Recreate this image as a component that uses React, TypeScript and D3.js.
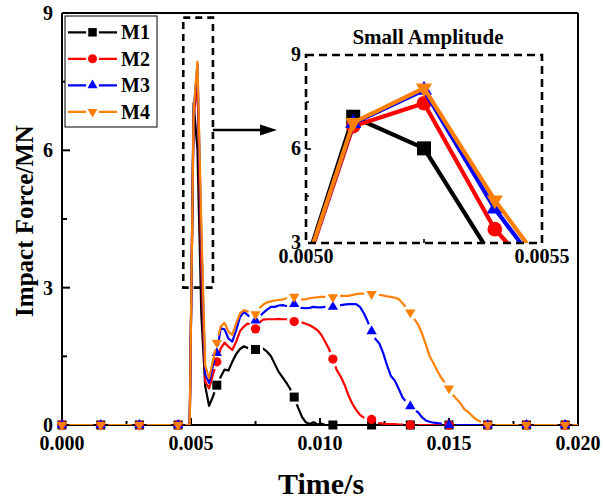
import React from "react";
import * as d3 from "d3";

// sampling step of the simulation output (s)
const TIME_STEP = 0.00015;

const SERIES_NAMES = ["M1", "M2", "M3", "M4"];
const SERIES_COLORS = ["#000000", "#ff0000", "#0000ff", "#ff8000"];

// Impact force (MN), one value per TIME_STEP, index 0 .. 134
const M1_VALUES = [
  0, 0, 0, 0, 0, 0, 0, 0, 0, 0,
  0, 0, 0, 0, 0, 0, 0, 0, 0, 0,
  0, 0, 0, 0, 0, 0, 0, 0, 0, 0,
  0, 0, 0, 0, 7.03, 6.02, 2.42, 0.85, 0.42, 0.62,
  0.87, 1.05, 1.21, 1.19, 1.38, 1.55, 1.66, 1.72, 1.68, 1.66,
  1.65, 1.68, 1.67, 1.6, 1.5, 1.33, 1.16, 1.04, 0.92, 0.78,
  0.61, 0.38, 0.18, 0.06, 0.02, 0.06, 0.01, 0.03, 0, 0,
  0, 0, 0, 0, 0, 0, 0, 0, 0, 0,
  0, 0, 0, 0, 0, 0, 0, 0, 0, 0,
  0, 0, 0, 0, 0, 0, 0, 0, 0, 0,
  0, 0, 0, 0, 0, 0, 0, 0, 0, 0,
  0, 0, 0, 0, 0, 0, 0, 0, 0, 0,
  0, 0, 0, 0, 0, 0, 0, 0, 0, 0,
  0, 0, 0, 0, 0,
];

const M2_VALUES = [
  0, 0, 0, 0, 0, 0, 0, 0, 0, 0,
  0, 0, 0, 0, 0, 0, 0, 0, 0, 0,
  0, 0, 0, 0, 0, 0, 0, 0, 0, 0,
  0, 0, 0, 0, 6.73, 7.46, 3.44, 0.95, 0.8, 1.1,
  1.38, 1.67, 1.8, 1.71, 1.64, 1.82, 2.05, 2.15, 2.22, 2.18,
  2.1, 2.24, 2.3, 2.31, 2.31, 2.31, 2.32, 2.31, 2.31, 2.29,
  2.26, 2.25, 2.24, 2.21, 2.18, 2.13, 2.07, 1.97, 1.82, 1.66,
  1.44, 1.2, 1.06, 0.88, 0.65, 0.47, 0.33, 0.22, 0.16, 0.13,
  0.12, 0.07, 0.04, 0.03, 0.02, 0.02, 0.02, 0.01, 0.01, 0.01,
  0, 0, 0, 0, 0, 0, 0, 0, 0, 0,
  0, 0, 0, 0, 0, 0, 0, 0, 0, 0,
  0, 0, 0, 0, 0, 0, 0, 0, 0, 0,
  0, 0, 0, 0, 0, 0, 0, 0, 0, 0,
  0, 0, 0, 0, 0,
];

const M3_VALUES = [
  0, 0, 0, 0, 0, 0, 0, 0, 0, 0,
  0, 0, 0, 0, 0, 0, 0, 0, 0, 0,
  0, 0, 0, 0, 0, 0, 0, 0, 0, 0,
  0, 0, 0, 0, 6.82, 7.88, 4.09, 1.1, 0.92, 1.29,
  1.57, 2.11, 2.09, 1.89, 1.82, 2.07, 2.36, 2.47, 2.4, 2.33,
  2.28, 2.36, 2.45, 2.52, 2.58, 2.58, 2.61, 2.62, 2.6, 2.62,
  2.64, 2.57, 2.56, 2.55, 2.56, 2.58, 2.57, 2.57, 2.58, 2.58,
  2.58, 2.6, 2.62, 2.63, 2.64, 2.64, 2.64, 2.58, 2.44, 2.26,
  2.05, 1.88, 1.78, 1.57, 1.3, 1.07, 0.97, 0.79, 0.6, 0.5,
  0.41, 0.33, 0.28, 0.17, 0.1, 0.07, 0.05, 0.04, 0.03, 0.02,
  0, 0, 0, 0, 0, 0, 0, 0, 0, 0,
  0, 0, 0, 0, 0, 0, 0, 0, 0, 0,
  0, 0, 0, 0, 0, 0, 0, 0, 0, 0,
  0, 0, 0, 0, 0,
];

const M4_VALUES = [
  0, 0, 0, 0, 0, 0, 0, 0, 0, 0,
  0, 0, 0, 0, 0, 0, 0, 0, 0, 0,
  0, 0, 0, 0, 0, 0, 0, 0, 0, 0,
  0, 0, 0, 0, 6.84, 7.94, 4.37, 1.3, 1.02, 1.4,
  1.8, 2.15, 2.23, 2.04, 1.97, 2.22, 2.44, 2.51, 2.48, 2.42,
  2.42, 2.55, 2.63, 2.68, 2.7, 2.72, 2.73, 2.74, 2.77, 2.78,
  2.8, 2.76, 2.74, 2.75, 2.77, 2.78, 2.79, 2.8, 2.8, 2.79,
  2.79, 2.81, 2.82, 2.82, 2.82, 2.84, 2.86, 2.87, 2.87, 2.86,
  2.86, 2.85, 2.84, 2.83, 2.81, 2.8, 2.78, 2.75, 2.66, 2.56,
  2.46, 2.32, 2.2, 2.0, 1.76, 1.5, 1.35, 1.18, 1.03, 0.92,
  0.8, 0.66, 0.56, 0.47, 0.34, 0.28, 0.2, 0.12, 0.08, 0.04,
  0, 0, 0, 0, 0, 0, 0, 0, 0, 0,
  0, 0, 0, 0, 0, 0, 0, 0, 0, 0,
  0, 0, 0, 0, 0,
];

const ALL_VALUES = [M1_VALUES, M2_VALUES, M3_VALUES, M4_VALUES];

const X_TICKS = [0, 0.005, 0.01, 0.015, 0.02];
const X_MINOR_TICKS = [0.0025, 0.0075, 0.0125, 0.0175];
const Y_TICKS = [0, 3, 6, 9];
const Y_MINOR_TICKS = [1.5, 4.5, 7.5];
const INSET_X_TICKS = [0.005, 0.0055];
const INSET_X_MINOR_TICKS = [0.00525];
const INSET_Y_TICKS = [3, 6, 9];
const INSET_Y_MINOR_TICKS = [4.5, 7.5];

const X_TITLE = "Time/s";
const Y_TITLE = "Impact Force/MN";
const INSET_TITLE = "Small Amplitude";

const FONT = "'Liberation Serif', 'Times New Roman', Times, serif";

type Pt = { i: number; t: number; v: number };

export default function App() {
  const W = 603;
  const H = 503;
  const x = d3.scaleLinear().domain([0, 0.02]).range([62, 578]);
  const y = d3.scaleLinear().domain([0, 9]).range([425, 13]);
  const ix = d3.scaleLinear().domain([0.005, 0.0055]).range([306, 542]);
  const iy = d3.scaleLinear().domain([3, 9]).range([243, 55]);

  const series = ALL_VALUES.map((vals, k) => ({
    name: SERIES_NAMES[k],
    color: SERIES_COLORS[k],
    points: vals.map((v, i) => ({ i, t: i * TIME_STEP, v })) as Pt[],
  }));

  const symbolTypes = [d3.symbolSquare, d3.symbolCircle, d3.symbolTriangle, d3.symbolTriangle];
  const rotations = [0, 0, 0, 180];
  const mainSizes = [81, 68, 46, 46];
  const insetSizes = [196, 170, 111, 111];
  const legendSizes = [72, 64, 44, 44];

  const mainLine = d3
    .line<Pt>()
    .x((d) => x(d.t))
    .y((d) => y(d.v));
  const insetLine = d3
    .line<Pt>()
    .x((d) => ix(d.t))
    .y((d) => iy(d.v));

  const sym = (k: number, size: number) => d3.symbol(symbolTypes[k], size)() as string;

  const [x0, x1] = x.range();
  const [y0, y1] = y.range();
  const [ix0, ix1] = ix.range();
  const [iy0, iy1] = iy.range();

  // spike-highlight box (data space)
  const boxT0 = 0.0047;
  const boxT1 = 0.00585;
  const boxV0 = 3;
  const boxV1 = 8.9;

  const legendX = 65;
  const legendY = 16;
  const legendW = 92;
  const legendH = 111;
  const legendRow0 = 32.3;
  const legendStep = 26.5;

  return (
    <svg
      width={W}
      height={H}
      style={{ position: "absolute", left: 0, top: 0, background: "#fff" }}
      fontFamily={FONT}
      fontWeight="bold"
    >
      <defs>
        <clipPath id="plotClip">
          <rect x={x0} y={y1} width={x1 - x0} height={y0 - y1} />
        </clipPath>
        <clipPath id="insetClip">
          <rect x={ix0} y={iy1} width={ix1 - ix0} height={iy0 - iy1} />
        </clipPath>
        {series.map((s, k) => (
          <mask key={k} id={`gap${k}`} maskUnits="userSpaceOnUse" x={0} y={0} width={W} height={H}>
            <rect x={0} y={0} width={W} height={H} fill="#fff" />
            {s.points
              .filter((p) => p.i % 10 === 0)
              .map((p) => (
                <circle key={p.i} cx={x(p.t)} cy={y(p.v)} r={7.5} fill="#000" />
              ))}
          </mask>
        ))}
        <mask id="legendGap" maskUnits="userSpaceOnUse" x={0} y={0} width={W} height={H}>
          <rect x={0} y={0} width={W} height={H} fill="#fff" />
          {series.map((s, k) => (
            <circle key={k} cx={legendX + 27.5} cy={legendRow0 + k * legendStep} r={6.5} fill="#000" />
          ))}
        </mask>
      </defs>

      <rect x={0} y={0} width={W} height={H} fill="#fff" />

      {/* axis frame */}
      <g stroke="#000" strokeWidth={2} fill="none">
        <line x1={x0} y1={y1} x2={x1} y2={y1} />
        <line x1={x1} y1={y1} x2={x1} y2={y0} />
        <line x1={x0} y1={y1} x2={x0} y2={y0 + 1} />
        <line x1={x0 - 1} y1={y0} x2={x1 + 1} y2={y0} />
        {X_TICKS.map((t) => (
          <line key={"xt" + t} x1={x(t)} y1={y0} x2={x(t)} y2={y0 - 7} />
        ))}
        {X_MINOR_TICKS.map((t) => (
          <line key={"xm" + t} x1={x(t)} y1={y0} x2={x(t)} y2={y0 - 4} />
        ))}
        {Y_TICKS.map((v) => (
          <line key={"yt" + v} x1={x0} y1={y(v)} x2={x0 + 8} y2={y(v)} />
        ))}
        {Y_MINOR_TICKS.map((v) => (
          <line key={"ym" + v} x1={x0} y1={y(v)} x2={x0 + 5} y2={y(v)} />
        ))}
      </g>

      {/* tick labels */}
      <g fontSize={20} fill="#000">
        {X_TICKS.map((t) => (
          <text key={"xl" + t} x={x(t)} y={450} textAnchor="middle">
            {d3.format(".3f")(t)}
          </text>
        ))}
        {Y_TICKS.map((v) => (
          <text key={"yl" + v} x={53} y={y(v) + 7} textAnchor="end">
            {v}
          </text>
        ))}
      </g>

      {/* axis titles */}
      <text x={(x0 + x1) / 2 + 1} y={494} textAnchor="middle" fontSize={30} fill="#000">
        {X_TITLE}
      </text>
      <text
        transform={`translate(33,${(y0 + y1) / 2 + 2}) rotate(-90)`}
        textAnchor="middle"
        fontSize={25}
        fill="#000"
      >
        {Y_TITLE}
      </text>

      {/* spike highlight box */}
      <rect
        x={x(boxT0)}
        y={y(boxV1)}
        width={x(boxT1) - x(boxT0)}
        height={y(boxV0) - y(boxV1)}
        fill="none"
        stroke="#000"
        strokeWidth={2.6}
        strokeDasharray="7 5"
      />

      {/* main series */}
      {series.map((s, k) => (
        <g key={s.name}>
          <g clipPath="url(#plotClip)">
            <path
              d={mainLine(s.points) as string}
              fill="none"
              stroke={s.color}
              strokeWidth={2.2}
              strokeLinejoin="round"
              mask={`url(#gap${k})`}
            />
          </g>
          {s.points
            .filter((p) => p.i % 10 === 0 && p.t <= 0.02 + 1e-9)
            .map((p) => (
              <path
                key={p.i}
                d={sym(k, mainSizes[k])}
                transform={`translate(${x(p.t)},${y(p.v)}) rotate(${rotations[k]})`}
                fill={s.color}
              />
            ))}
        </g>
      ))}

      {/* arrow to inset */}
      <line x1={x(boxT1)} y1={130} x2={262} y2={130} stroke="#000" strokeWidth={2.4} />
      <path d={`M${277},130 L${260},${124.5} L${260},${135.5} Z`} fill="#000" />

      {/* inset */}
      <text x={(ix0 + ix1) / 2 + 4} y={44} textAnchor="middle" fontSize={21} fill="#000">
        {INSET_TITLE}
      </text>
      <g stroke="#000" strokeWidth={1.6}>
        {INSET_Y_TICKS.filter((v) => v !== 3 && v !== 9).map((v) => (
          <line key={"iyt" + v} x1={ix0} y1={iy(v)} x2={ix0 + 5} y2={iy(v)} />
        ))}
        {INSET_Y_MINOR_TICKS.map((v) => (
          <line key={"iym" + v} x1={ix0} y1={iy(v)} x2={ix0 + 3} y2={iy(v)} />
        ))}
        {INSET_X_MINOR_TICKS.map((t) => (
          <line key={"ixm" + t} x1={ix(t)} y1={iy0} x2={ix(t)} y2={iy0 - 4} />
        ))}
      </g>
      <g fontSize={20} fill="#000">
        {INSET_Y_TICKS.map((v) => (
          <text key={"iyl" + v} x={301} y={iy(v) + 6} textAnchor="end">
            {v}
          </text>
        ))}
        {INSET_X_TICKS.map((t) => (
          <text key={"ixl" + t} x={ix(t)} y={263} textAnchor="middle">
            {d3.format(".4f")(t)}
          </text>
        ))}
      </g>
      {series.map((s, k) => (
        <g key={"in" + s.name}>
          <g clipPath="url(#insetClip)">
            <path
              d={insetLine(s.points.filter((p) => p.i >= 30 && p.i <= 40)) as string}
              fill="none"
              stroke={s.color}
              strokeWidth={4.2}
              strokeLinejoin="round"
            />
          </g>
          {s.points
            .filter(
              (p) =>
                p.t >= 0.005 - 1e-9 &&
                p.t <= 0.0055 + 1e-9 &&
                p.v >= 3 &&
                p.v <= 9
            )
            .map((p) => (
              <path
                key={p.i}
                d={sym(k, insetSizes[k])}
                transform={`translate(${ix(p.t)},${iy(p.v)}) rotate(${rotations[k]})`}
                fill={s.color}
              />
            ))}
        </g>
      ))}
      <rect
        x={ix0}
        y={iy1}
        width={ix1 - ix0}
        height={iy0 - iy1}
        fill="none"
        stroke="#000"
        strokeWidth={2.6}
        strokeDasharray="8 5"
      />

      {/* legend */}
      <rect x={legendX} y={legendY} width={legendW} height={legendH} fill="#fff" stroke="#000" strokeWidth={1} />
      {series.map((s, k) => {
        const ly = legendRow0 + k * legendStep;
        return (
          <g key={"lg" + s.name}>
            <line
              x1={legendX + 3}
              y1={ly}
              x2={legendX + 52}
              y2={ly}
              stroke={s.color}
              strokeWidth={2.2}
              mask="url(#legendGap)"
            />
            <path
              d={sym(k, legendSizes[k])}
              transform={`translate(${legendX + 27.5},${ly}) rotate(${rotations[k]})`}
              fill={s.color}
            />
            <text x={legendX + 56} y={ly + 7} fontSize={20} fill="#000">
              {s.name}
            </text>
          </g>
        );
      })}
    </svg>
  );
}
